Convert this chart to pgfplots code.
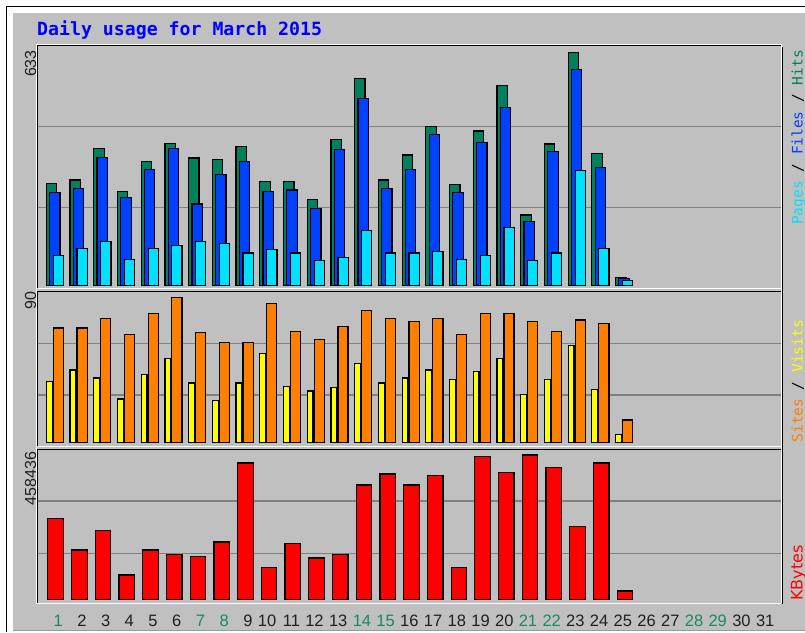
\documentclass[border=0pt]{standalone}
\usepackage{fontspec}
\setmainfont{Liberation Sans}
\newfontfamily\monof{DejaVu Sans Mono}
\newfontfamily\dvs{DejaVu Sans}
\usepackage{pgfplots}
\usepackage{pgfplotstable}
\pgfplotsset{compat=1.18}

\definecolor{bg}{HTML}{C0C0C0}
\definecolor{hitc}{HTML}{00805C}
\definecolor{filec}{HTML}{0040FF}
\definecolor{pagec}{HTML}{00E0FF}
\definecolor{visc}{HTML}{FFFF00}
\definecolor{sitec}{HTML}{FF8000}
\definecolor{kbc}{HTML}{FF0000}
\definecolor{gridc}{HTML}{808080}
\definecolor{wk}{HTML}{1A8A5E}
\definecolor{dk}{HTML}{202020}
\definecolor{titlec}{HTML}{0000FF}

\pgfplotstableread{
day hits files pages visits sites kbytes
1 277 252 80 38 71 257340
2 286 264 101 45 71 156600
3 372 347 118 40 77 217900
4 254 238 71 27 67 77200
5 337 315 101 42 80 156600
6 386 372 109 52 90 141700
7 346 221 118 37 68 136600
8 341 302 113 26 62 182000
9 377 337 88 37 62 433000
10 281 255 97 55 86 101700
11 281 259 88 35 69 176600
12 234 208 67 32 64 131200
13 397 368 75 34 72 141700
14 561 508 148 49 82 363100
15 286 264 88 37 77 398000
16 354 315 88 40 75 363100
17 431 410 92 45 77 392700
18 273 252 71 39 67 101700
19 419 389 80 44 80 453000
20 542 484 157 52 80 403500
21 191 174 67 30 75 458436
22 384 363 88 39 69 418100
23 633 586 311 60 76 231900
24 359 320 101 33 74 433000
25 21 19 12 5 14 26400
}\daily

\pgfplotsset{
  panel/.style={
    scale only axis, width=743pt, xmin=0.163, xmax=31.487, ymin=0,
    anchor=north west,
    axis line style={draw=none}, tick style={draw=none},
    xtick=\empty, yticklabels={,,}, scaled y ticks=false,
    ymajorgrids, major grid style={draw=gridc, line width=1.5pt},
    clip=false,
  },
  wbar/.style={ybar, draw=black, line width=1.2pt},
}

\begin{document}
\begin{tikzpicture}
\useasboundingbox (0pt,0pt) rectangle (805pt,-632pt);
% outer frame
\fill[white] (0pt,0pt) rectangle (805pt,-632pt);
\fill[black] (6pt,-6pt) rectangle (805pt,-632pt);
\fill[white] (7.3pt,-7.3pt) rectangle (805pt,-632pt);
\fill[bg] (13pt,-13pt) rectangle (805pt,-629.5pt);
\fill[gray!80] (13pt,-629.5pt) rectangle (805pt,-631pt);

% title
\node[anchor=base west, inner sep=0pt, text=titlec] at (37pt,-35pt)
  {\monof\bfseries\fontsize{18.2}{20}\selectfont Daily usage for March 2015};

% Panel 1: hits / files / pages
\begin{axis}[panel, at={(37.7pt,-45.7pt)}, height=239.6pt, ymax=651, ytick={212,431}]
\addplot[wbar, fill=hitc, bar width=10.4pt, bar shift=-6.05pt] table[x=day,y=hits]{\daily};
\addplot[wbar, fill=filec, bar width=10.4pt, bar shift=-2.75pt] table[x=day,y=files]{\daily};
\addplot[wbar, fill=pagec, bar width=10.2pt, bar shift=0.83pt] table[x=day,y=pages]{\daily};
\end{axis}

% Panel 2: visits / sites
\begin{axis}[panel, at={(37.7pt,-291.5pt)}, height=151.2pt, ymax=93.6, ytick={29.5,61.5}]
\addplot[wbar, fill=visc, bar width=5.8pt, bar shift=-8.35pt] table[x=day,y=visits]{\daily};
\addplot[wbar, fill=sitec, bar width=10.1pt, bar shift=0.78pt] table[x=day,y=sites]{\daily};
\end{axis}

% Panel 3: kbytes
\begin{axis}[panel, at={(37.7pt,-449.5pt)}, height=149.8pt, ymax=475900, ytick={146100,312300},
  xtick={1,2,...,31},
  xticklabels={\textcolor{wk}{1},2,3,4,5,6,\textcolor{wk}{7},\textcolor{wk}{8},9,10,11,12,13,\textcolor{wk}{14},\textcolor{wk}{15},16,17,18,19,20,\textcolor{wk}{21},\textcolor{wk}{22},23,24,25,26,27,\textcolor{wk}{28},\textcolor{wk}{29},30,31},
  xticklabel style={anchor=base east, inner sep=0pt, xshift=5.4pt, yshift=-27.4pt, text=dk, font=\fontsize{16.5}{18}\selectfont}]
\addplot[wbar, fill=kbc, bar width=15.5pt, bar shift=-1.92pt] table[x=day,y=kbytes]{\daily};
\end{axis}

% panel frames: white highlights
\draw[white, line width=1.2pt] (36.2pt,-44.2pt) -- (781.3pt,-44.2pt);
\draw[white, line width=1.2pt] (36.2pt,-44.2pt) -- (36.2pt,-603.3pt);
\draw[white, line width=1.2pt] (781.3pt,-44.2pt) -- (781.3pt,-603.3pt);
\draw[white, line width=1.2pt] (37.7pt,-288.3pt) -- (781.3pt,-288.3pt);
\draw[white, line width=1.2pt] (37.7pt,-446.5pt) -- (781.3pt,-446.5pt);
\draw[white, line width=1.2pt] (36.2pt,-603.3pt) -- (781.3pt,-603.3pt);
% black top/left edges
\draw[black, line width=1.5pt] (37.7pt,-287.5pt) -- (37.7pt,-45.7pt) -- (780.6pt,-45.7pt);
\draw[black, line width=1.5pt] (37.7pt,-445.7pt) -- (37.7pt,-291.5pt) -- (780.6pt,-291.5pt);
\draw[black, line width=1.5pt] (37.7pt,-602.5pt) -- (37.7pt,-449.5pt) -- (780.6pt,-449.5pt);
\draw[black, line width=1.3pt] (782.7pt,-47pt) -- (782.7pt,-604pt);

% left max labels
\node[rotate=90, anchor=base east, inner sep=0pt, text=dk] at (36pt,-50pt) {\fontsize{16}{18}\selectfont 633};
\node[rotate=90, anchor=base east, inner sep=0pt, text=dk] at (36pt,-291.7pt) {\fontsize{16}{18}\selectfont 90};
\node[rotate=90, anchor=base east, inner sep=0pt, text=dk] at (36pt,-451.7pt) {\fontsize{16}{18}\selectfont 458436};

% right legends
\node[rotate=90, anchor=base east, inner sep=0pt] at (802.5pt,-50pt)
  {\monof\fontsize{14.5}{16}\selectfont\textcolor{pagec}{Pages} / \textcolor{filec}{Files} / \textcolor{hitc}{Hits}};
\node[rotate=90, anchor=base east, inner sep=0pt] at (802.5pt,-320pt)
  {\monof\fontsize{14.5}{16}\selectfont\textcolor{sitec}{Sites} / \textcolor{visc}{Visits}};
\node[rotate=90, anchor=base east, inner sep=0pt] at (802.5pt,-545pt)
  {\dvs\fontsize{16}{18}\selectfont\textcolor{kbc}{KBytes}};
\end{tikzpicture}
\end{document}
